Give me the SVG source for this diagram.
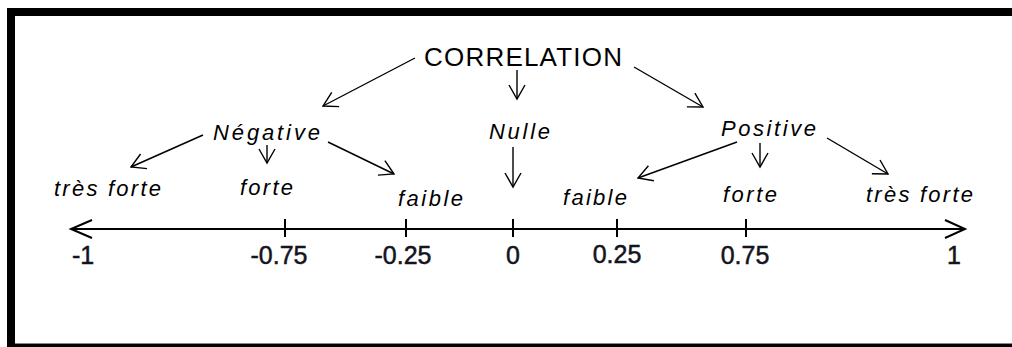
<svg xmlns="http://www.w3.org/2000/svg" width="1012" height="347" viewBox="0 0 1012 347">
  <style>
    .lbl { font-family: "Liberation Sans", Arial, sans-serif; font-style: italic; font-size: 22px; fill: #000; }
    .title { font-family: "Liberation Sans", Arial, sans-serif; font-size: 26px; fill: #000; }
    .num { font-family: "Liberation Sans", Arial, sans-serif; font-size: 25px; fill: #141420; stroke: #141420; stroke-width: 0.5; text-anchor: middle; }
    .conn { stroke: #000; stroke-width: 1.4; fill: none; marker-end: url(#arr); }
    .axis { stroke: #000; stroke-width: 2; fill: none; }
  </style>
  <defs>
    <marker id="arr" markerUnits="userSpaceOnUse" markerWidth="20" markerHeight="20" refX="15" refY="8" orient="auto" overflow="visible">
      <path d="M1,0 L15,8 L1,16" fill="none" stroke="#000" stroke-width="1.4"/>
    </marker>
  </defs>
  <rect width="1012" height="347" fill="#fff"/>
  <g id="frame">
    <rect x="7" y="8" width="1005" height="8" fill="#000"/>
    <rect x="7" y="8" width="8" height="339" fill="#000"/>
    <rect x="7" y="344" width="1005" height="3" fill="#000"/>
    <rect x="15" y="343" width="997" height="1" fill="#888"/>
  </g>
  <g id="correlation"><text class="title" x="424" y="66" textLength="198" lengthAdjust="spacing">CORRELATION</text></g>
  <g id="negative"><text class="lbl" x="213" y="140" textLength="107" lengthAdjust="spacing">Négative</text></g>
  <g id="nulle"><text class="lbl" x="489" y="139" textLength="61" lengthAdjust="spacing">Nulle</text></g>
  <g id="positive"><text class="lbl" x="721" y="136" textLength="95" lengthAdjust="spacing">Positive</text></g>
  <g id="neg-tres-forte"><text class="lbl" x="54" y="196" textLength="107" lengthAdjust="spacing">très forte</text></g>
  <g id="neg-forte"><text class="lbl" x="240" y="195" textLength="53" lengthAdjust="spacing">forte</text></g>
  <g id="neg-faible"><text class="lbl" x="398" y="206" textLength="65" lengthAdjust="spacing">faible</text></g>
  <g id="pos-faible"><text class="lbl" x="563" y="205" textLength="64" lengthAdjust="spacing">faible</text></g>
  <g id="pos-forte"><text class="lbl" x="723" y="202" textLength="54" lengthAdjust="spacing">forte</text></g>
  <g id="pos-tres-forte"><text class="lbl" x="866" y="202" textLength="107" lengthAdjust="spacing">très forte</text></g>
  <g id="connectors">
    <line class="conn" x1="415" y1="58" x2="323" y2="106"/>
    <line class="conn" x1="517" y1="70" x2="517" y2="99"/>
    <line class="conn" x1="634" y1="67" x2="703" y2="107"/>
    <line class="conn" x1="513" y1="147" x2="513" y2="187"/>
    <line class="conn" x1="203" y1="135" x2="131" y2="167"/>
    <line class="conn" x1="267" y1="145" x2="267" y2="163"/>
    <line class="conn" x1="328" y1="142" x2="394" y2="174"/>
    <line class="conn" x1="737" y1="142" x2="638" y2="178"/>
    <line class="conn" x1="760" y1="143" x2="760" y2="167"/>
    <line class="conn" x1="827" y1="138" x2="888" y2="174"/>
  </g>
  <g id="axis">
    <line class="axis" x1="71" y1="229" x2="965" y2="229"/>
    <polyline class="axis" points="92,220 71,229 92,238"/>
    <polyline class="axis" points="945,220 965,229 945,238"/>
    <line class="axis" x1="285" y1="219" x2="285" y2="237"/>
    <line class="axis" x1="406" y1="219" x2="406" y2="237"/>
    <line class="axis" x1="513" y1="219" x2="513" y2="237"/>
    <line class="axis" x1="617" y1="219" x2="617" y2="237"/>
    <line class="axis" x1="746" y1="219" x2="746" y2="237"/>
    <text class="num" x="83" y="264">-1</text>
    <text class="num" x="279" y="264">-0.75</text>
    <text class="num" x="403" y="264">-0.25</text>
    <text class="num" x="513" y="264">0</text>
    <text class="num" x="617" y="263">0.25</text>
    <text class="num" x="745" y="264">0.75</text>
    <text class="num" x="954" y="264">1</text>
  </g>
</svg>
